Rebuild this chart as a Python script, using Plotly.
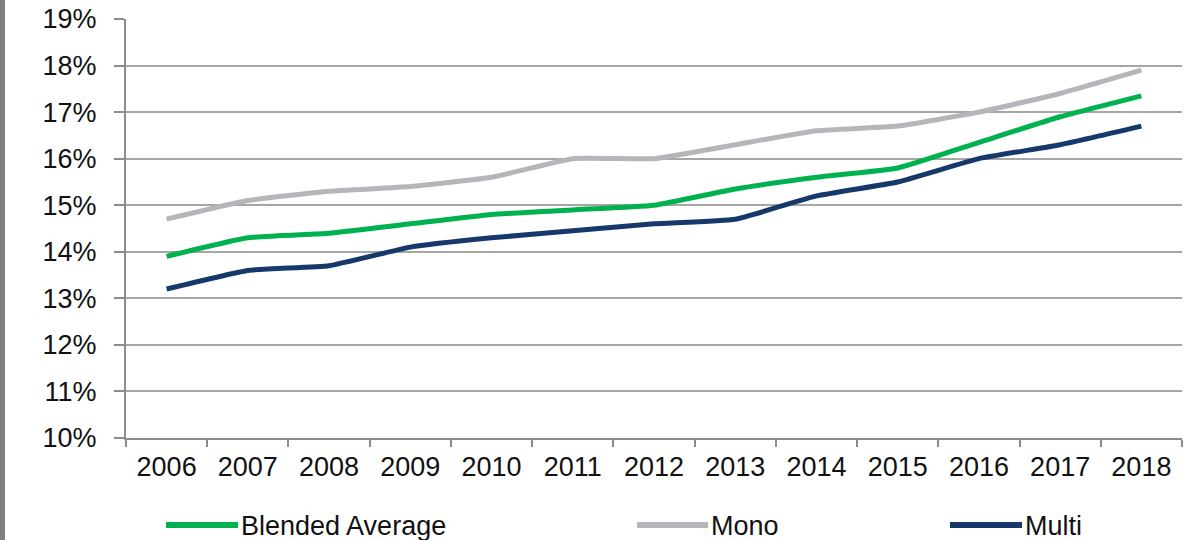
import plotly.graph_objects as go

years = [str(y) for y in range(2006, 2019)]
blended = [13.9, 14.3, 14.4, 14.6, 14.8, 14.9, 15.0, 15.35, 15.6, 15.8, 16.35, 16.9, 17.35]
mono = [14.7, 15.1, 15.3, 15.4, 15.6, 16.0, 16.0, 16.3, 16.6, 16.7, 17.0, 17.4, 17.9]
multi = [13.2, 13.6, 13.7, 14.1, 14.3, 14.45, 14.6, 14.7, 15.2, 15.5, 16.0, 16.3, 16.7]
y_ticks = list(range(10, 20))
y_labels = [f"{v}%" for v in y_ticks]

series = [
    ("Blended Average", blended, "#00B14F"),
    ("Mono", mono, "#B6B6BA"),
    ("Multi", multi, "#17386A"),
]

W, H = 1197, 540
ML, MR, MT, MB = 126, 15, 19, 102
PW, PH = W - ML - MR, H - MT - MB
FONT = "Liberation Sans, Arial, sans-serif"


def px(x):
    return (x - ML) / PW


def py(y):
    return (H - MB - y) / PH


fig = go.Figure()
for name, vals, color in series:
    fig.add_trace(go.Scatter(
        x=years, y=vals, name=name, mode="lines",
        line={"color": color, "width": 5, "shape": "spline", "smoothing": 0.4},
        showlegend=False,
    ))

# legend drawn by hand so the sample lines are as long as in the original
legend_pos = [(166, 238), (637, 708), (950, 1022)]
shapes = []
annotations = []
for (name, _, color), (x0, x1) in zip(series, legend_pos):
    shapes.append(dict(type="line", xref="paper", yref="paper",
                       x0=px(x0), x1=px(x1), y0=py(525), y1=py(525),
                       line={"color": color, "width": 6}))
    annotations.append(dict(text=name, xref="paper", yref="paper",
                            x=px(x1 + 1), y=py(526), xanchor="left", yanchor="middle",
                            showarrow=False, font={"size": 27, "color": "#111111", "family": FONT}))

# dark strip on the left edge
shapes.append(dict(type="rect", xref="paper", yref="paper",
                   x0=px(0), x1=px(5), y0=py(H), y1=py(0),
                   fillcolor="#7F7F7F", line={"width": 0}, layer="below"))

fig.update_layout(
    width=W, height=H,
    margin={"l": ML, "r": MR, "t": MT, "b": MB, "autoexpand": False},
    paper_bgcolor="white", plot_bgcolor="white",
    font={"family": FONT, "size": 27, "color": "#111111"},
    shapes=shapes, annotations=annotations,
)
fig.update_xaxes(
    type="category", range=[-0.5, 12.5], tickson="boundaries",
    ticks="outside", ticklen=7, tickwidth=2, tickcolor="#8C8C8C",
    showline=True, linecolor="#8C8C8C", linewidth=2,
    showgrid=False, ticklabelstandoff=4, automargin=False,
)
fig.update_yaxes(
    range=[10, 19], tickvals=y_ticks, ticktext=y_labels,
    ticks="outside", ticklen=10, tickwidth=2, tickcolor="#8C8C8C",
    showline=True, linecolor="#8C8C8C", linewidth=2,
    showgrid=True, gridcolor="#A6A6A6", gridwidth=1.5,
    zeroline=False, ticklabelstandoff=12, automargin=False,
)

fig.write_html("out.html", config={"displayModeBar": False},
               post_script="document.body.style.margin='0';")
